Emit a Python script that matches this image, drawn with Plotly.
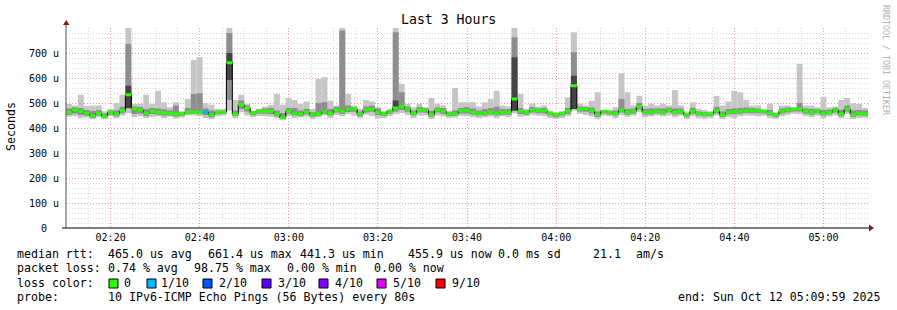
import plotly.graph_objects as go
import pandas as pd

# ---------------- data (microseconds) ----------------
start = pd.Timestamp("2025-10-12 02:09:59")
end = pd.Timestamp("2025-10-12 05:09:59")
step_s = 80

median = [463, 472, 467, 459, 449, 459, 447, 463, 456, 469, 533, 476, 472, 459, 467, 463, 460, 459, 456, 456,
          463, 463, 463, 464, 453, 463, 463, 661, 456, 493, 480, 460, 467, 467, 467, 456, 441, 467, 459, 456,
          463, 453, 456, 465, 459, 472, 467, 475, 476, 456, 473, 476, 463, 456, 467, 480, 485, 476, 459, 472,
          472, 453, 472, 467, 456, 456, 469, 469, 463, 459, 459, 463, 459, 463, 463, 516, 467, 463, 472, 469,
          469, 459, 453, 459, 467, 569, 476, 476, 469, 453, 467, 463, 459, 472, 463, 467, 485, 463, 463, 467,
          463, 472, 463, 467, 453, 467, 459, 456, 456, 469, 453, 463, 465, 467, 469, 469, 469, 467, 459, 453,
          467, 472, 476, 476, 467, 463, 467, 459, 463, 472, 456, 476, 453, 459, 456]

ping_max = [496, 490, 533, 489, 490, 490, 467, 476, 500, 533, 800, 496, 496, 533, 496, 549, 503, 483, 503, 467,
            516, 672, 683, 500, 493, 476, 476, 800, 512, 533, 496, 470, 476, 485, 493, 536, 493, 520, 512, 496,
            506, 476, 596, 603, 509, 490, 800, 536, 490, 476, 512, 506, 483, 467, 476, 800, 576, 496, 483, 496,
            483, 520, 496, 490, 469, 560, 503, 503, 503, 486, 503, 516, 549, 490, 486, 800, 536, 476, 496, 486,
            490, 469, 463, 467, 523, 783, 496, 490, 509, 543, 472, 472, 483, 619, 543, 490, 529, 490, 496, 490,
            496, 490, 552, 490, 463, 503, 476, 472, 467, 528, 490, 506, 549, 543, 512, 490, 490, 476, 496, 463,
            490, 490, 483, 656, 490, 490, 483, 525, 483, 486, 512, 520, 499, 496, 480]

ping_min = [445, 447, 439, 442, 436, 443, 436, 447, 440, 450, 460, 443, 447, 440, 444, 446, 440, 445, 438, 442,
            450, 450, 447, 440, 436, 447, 449, 470, 440, 463, 450, 443, 448, 447, 445, 440, 433, 447, 440, 442,
            446, 436, 442, 450, 440, 452, 447, 455, 449, 440, 453, 447, 438, 440, 447, 455, 460, 452, 440, 450,
            450, 436, 450, 446, 440, 442, 449, 447, 443, 440, 442, 446, 440, 447, 443, 460, 445, 447, 453, 449,
            447, 440, 436, 440, 447, 470, 457, 452, 446, 436, 450, 447, 440, 452, 443, 449, 463, 443, 446, 450,
            446, 450, 443, 449, 436, 447, 440, 437, 440, 450, 436, 443, 440, 447, 450, 449, 446, 449, 440, 436,
            447, 452, 457, 455, 447, 443, 449, 440, 446, 450, 440, 457, 436, 440, 441]

ping_upper = [478, 483, 480, 472, 468, 472, 458, 470, 470, 485, 736, 486, 484, 476, 480, 478, 475, 470, 490, 462,
              480, 536, 539, 478, 470, 470, 470, 780, 470, 510, 490, 466, 474, 478, 480, 470, 460, 480, 480, 470,
              476, 463, 500, 503, 476, 484, 790, 490, 484, 466, 486, 490, 478, 462, 472, 783, 543, 486, 470, 484,
              480, 468, 482, 480, 464, 470, 480, 483, 478, 470, 476, 480, 485, 476, 476, 763, 480, 470, 484, 478,
              480, 464, 458, 463, 480, 703, 486, 484, 482, 466, 470, 468, 470, 516, 476, 478, 500, 476, 478, 478,
              478, 482, 478, 478, 458, 480, 466, 464, 462, 484, 466, 476, 478, 480, 482, 480, 478, 472, 472, 460,
              478, 482, 480, 500, 478, 476, 476, 472, 474, 480, 472, 490, 470, 472, 470]

ping_lower = [453, 458, 452, 449, 440, 450, 440, 453, 447, 459, 478, 456, 458, 448, 456, 453, 450, 450, 446, 448,
              455, 456, 455, 452, 443, 455, 456, 512, 448, 476, 466, 451, 458, 457, 456, 447, 436, 457, 450, 448,
              454, 444, 448, 456, 450, 462, 456, 464, 465, 447, 462, 465, 452, 448, 457, 466, 472, 465, 450, 462,
              461, 444, 462, 456, 448, 449, 458, 458, 453, 450, 450, 454, 450, 453, 453, 480, 456, 453, 462, 459,
              458, 450, 444, 450, 456, 500, 466, 465, 458, 444, 458, 454, 450, 462, 453, 458, 474, 454, 454, 458,
              454, 462, 454, 457, 444, 457, 450, 447, 448, 459, 444, 454, 455, 457, 460, 459, 459, 458, 450, 444,
              457, 462, 466, 466, 457, 453, 458, 450, 454, 462, 447, 466, 444, 450, 449]

core_steps = [10, 27, 55, 75, 85]
core_lower = [480, 592, 476, 469, 476]
core_upper = [569, 700, 510, 683, 609]

loss_steps = [23]
loss_tenths = [1]

loss_labels = ["0", "1/10", "2/10", "3/10", "4/10", "5/10", "9/10"]
loss_colors = ["#26ff00", "#00b8ff", "#0059ff", "#5e00ff", "#7e00ff", "#dd00ff", "#ff0000"]

y_ticks = [0, 100, 200, 300, 400, 500, 600, 700]
y_ticktext = ["0\u00a0\u00a0", "100 u", "200 u", "300 u", "400 u", "500 u", "600 u", "700 u"]

# ---------------- geometry helpers (pixel -> paper) ----------------
L, R, T, B = 66, 868, 28, 228
W, H = 897, 310


def px(x):
    return (x - L) / (R - L)


def py(y):
    return (B - y) / (B - T)


n = len(median)
t_start = [start + pd.Timedelta(seconds=step_s * i) for i in range(n)]
t_end = [t + pd.Timedelta(seconds=step_s) for t in t_start]
t_mid = [t + pd.Timedelta(seconds=step_s / 2) for t in t_start]
bar_w = step_s * 1000

fig = go.Figure()

# smoke layers
fig.add_trace(go.Bar(x=t_mid, y=[h - l for h, l in zip(ping_max, ping_min)], base=ping_min, width=bar_w,
                     marker=dict(color="#c6c6c6", line=dict(width=0)), hoverinfo="skip"))
fig.add_trace(go.Bar(x=t_mid, y=[h - l for h, l in zip(ping_upper, ping_lower)], base=ping_lower, width=bar_w,
                     marker=dict(color="#8e8e8e", line=dict(width=0)), hoverinfo="skip"))
fig.add_trace(go.Bar(x=[t_mid[i] for i in core_steps], y=[h - l for h, l in zip(core_upper, core_lower)],
                     base=core_lower, width=bar_w,
                     marker=dict(color="#444444", line=dict(width=0)), hoverinfo="skip"))

# median black step line
fig.add_trace(go.Scatter(x=t_start + [end], y=median + [median[-1]], mode="lines",
                         line=dict(color="#000000", width=1, shape="hv"), hoverinfo="skip"))

# colored median segments
loss_of = {s: k for s, k in zip(loss_steps, loss_tenths)}
for k, col in enumerate(loss_colors):
    xs, ys = [], []
    for i in range(n):
        lv = loss_of.get(i, 0)
        idx = {0: 0, 1: 1, 2: 2, 3: 3, 4: 4, 5: 5}.get(lv, 6)
        if idx == k:
            xs += [t_start[i], t_end[i], None]
            ys += [median[i], median[i], None]
    if xs:
        fig.add_trace(go.Scatter(x=xs, y=ys, mode="lines", line=dict(color=col, width=3),
                                 hoverinfo="skip"))

mono = "DejaVu Sans Mono"
major_grid = "#f29a9a"
minor_grid = "#dadada"

fig.update_layout(
    width=W, height=H,
    margin=dict(l=L, r=W - R, t=T, b=H - B, pad=0),
    paper_bgcolor="#ffffff", plot_bgcolor="#ffffff",
    showlegend=False, barmode="overlay",
    xaxis=dict(type="date", range=[start, end], tickformat="%H:%M",
               tick0="2025-10-12 02:20:00", dtick=1200000,
               showgrid=True, gridcolor=major_grid, griddash="1px,2px", gridwidth=1,
               minor=dict(dtick=300000, tick0="2025-10-12 02:20:00", showgrid=True,
                          gridcolor=minor_grid, griddash="1px,2px", gridwidth=1),
               ticks="", ticklabelstandoff=2, showline=False, zeroline=False,
               tickfont=dict(family=mono, size=10, color="#000000")),
    yaxis=dict(range=[0, 800], tickvals=y_ticks, ticktext=y_ticktext,
               showgrid=True, gridcolor=major_grid, griddash="1px,2px", gridwidth=1,
               minor=dict(dtick=20, tick0=0, showgrid=True, gridcolor=minor_grid,
                          griddash="1px,2px", gridwidth=1),
               ticks="", ticklabelstandoff=6, showline=False, zeroline=False,
               tickfont=dict(family=mono, size=10, color="#000000")),
)

shapes = []
# axis lines
shapes.append(dict(type="line", xref="paper", yref="paper", x0=px(66), x1=px(66), y0=py(228), y1=py(24),
                   line=dict(color="#505050", width=1)))
shapes.append(dict(type="line", xref="paper", yref="paper", x0=px(62), x1=px(870), y0=py(228), y1=py(228),
                   line=dict(color="#000000", width=1)))
# arrows
shapes.append(dict(type="path", xref="paper", yref="paper",
                   path=f"M {px(63)} {py(25)} L {px(69.5)} {py(25)} L {px(66.3)} {py(20)} Z",
                   fillcolor="#8b1a1a", line=dict(width=0)))
shapes.append(dict(type="path", xref="paper", yref="paper",
                   path=f"M {px(869)} {py(224.5)} L {px(869)} {py(231.5)} L {px(874)} {py(228)} Z",
                   fillcolor="#8b1a1a", line=dict(width=0)))
# loss color squares
sq_x = [109, 147, 203, 262, 319, 377, 436]
for x0, col in zip(sq_x, loss_colors):
    shapes.append(dict(type="rect", xref="paper", yref="paper",
                       x0=px(x0), x1=px(x0 + 9), y0=py(288), y1=py(279),
                       fillcolor=col, line=dict(color="#000000", width=1)))
fig.update_layout(shapes=shapes)

ann = []


def text(x, y, s, size=11.6, anchor="left", color="#000000", angle=0):
    ann.append(dict(xref="paper", yref="paper", x=px(x), y=py(y), text=s, showarrow=False,
                    xanchor=anchor, yanchor="middle", textangle=angle, borderpad=0,
                    font=dict(family=mono, size=size, color=color)))


text(448, 20, "Last 3 Hours", size=13.2, anchor="center")
text(11, 127, "Seconds", size=11.6, anchor="center", angle=-90)
text(886, 60, "RRDTOOL / TOBI OETIKER", size=8.3, anchor="center", color="#b0b0b0", angle=90)

line1 = [("median rtt:", 16), ("465.0 us avg", 107), ("661.4 us max", 207), ("441.3 us min", 299),
         ("455.9 us now", 407), ("0.0 ms sd", 497), ("21.1", 592), ("am/s", 635)]
line2 = [("packet loss:", 16), ("0.74 % avg", 107), ("98.75 % max", 193), ("0.00 % min", 286),
         ("0.00 % now", 373)]
for s, x in line1:
    text(x, 254, s)
for s, x in line2:
    text(x, 268, s)
text(16, 283, "loss color:")
for lab, x in zip(loss_labels, [123, 160, 218, 277, 334, 392, 451]):
    text(x, 283, lab)
text(16, 297, "probe:")
text(107, 297, "10 IPv6-ICMP Echo Pings (56 Bytes) every 80s")
text(881, 297, "end: Sun Oct 12 05:09:59 2025", anchor="right")

fig.update_layout(annotations=ann)

fig.write_html("out.html")
